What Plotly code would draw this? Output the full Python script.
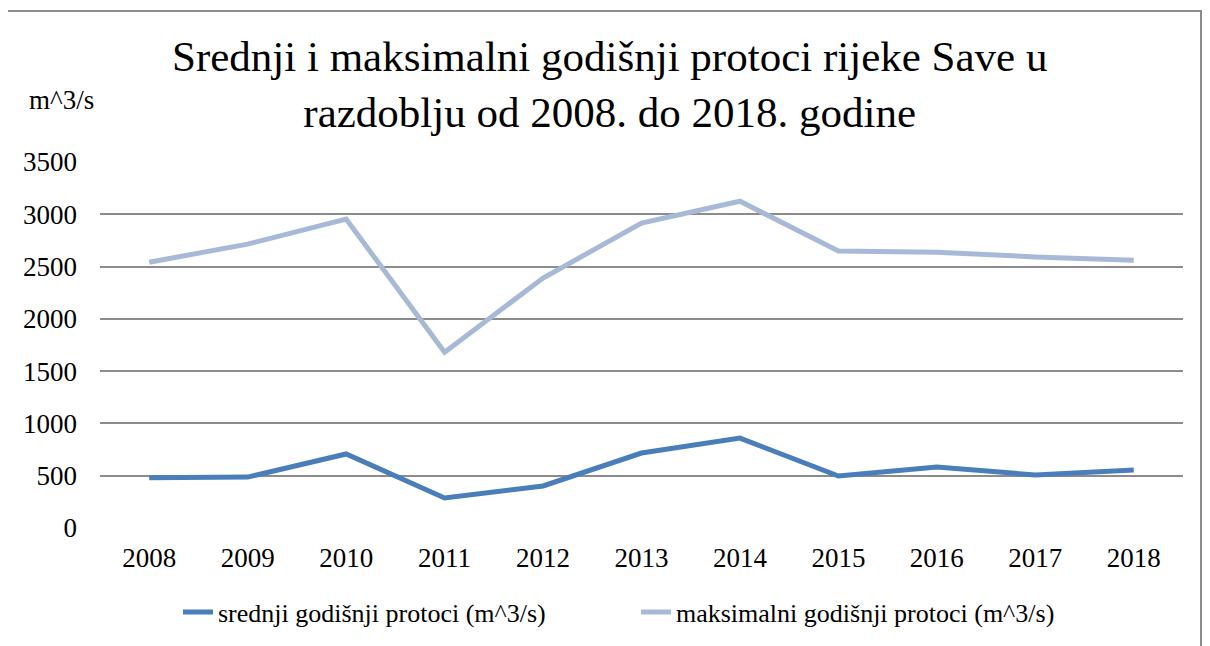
import plotly.graph_objects as go

years = ["2008", "2009", "2010", "2011", "2012", "2013", "2014", "2015", "2016", "2017", "2018"]
srednji = [480, 487, 708, 287, 402, 717, 860, 497, 583, 507, 555]
maksimalni = [2542, 2715, 2955, 1680, 2390, 2915, 3125, 2648, 2638, 2592, 2560]
y_ticks = [0, 500, 1000, 1500, 2000, 2500, 3000, 3500]

name_sr = "srednji godišnji protoci (m^3/s)"
name_mx = "maksimalni godišnji protoci (m^3/s)"
FONT = "Times New Roman"

fig = go.Figure()
fig.add_trace(go.Scatter(x=years, y=srednji, mode="lines", name=name_sr,
                         line=dict(color="#4A7EBB", width=5)))
fig.add_trace(go.Scatter(x=years, y=maksimalni, mode="lines", name=name_mx,
                         line=dict(color="#A7B9D7", width=5)))

# page body has an 8px margin, so the figure is offset by (8, 8) in the window
fig.update_layout(
    width=1202, height=638,
    margin=dict(l=92, r=27, t=154, b=118, autoexpand=False),
    paper_bgcolor="white", plot_bgcolor="white",
    font=dict(family=FONT, color="black", size=26),
    showlegend=True,
    legend=dict(orientation="h", x=0.072, xanchor="left", y=-0.23, yanchor="middle",
                font=dict(size=26, family=FONT, color="black"), traceorder="normal",
                entrywidth=413, entrywidthmode="pixels"),
    xaxis=dict(type="category", range=[-0.5, 10.5], showgrid=False, showline=False,
               zeroline=False, tickfont=dict(size=27, family=FONT, color="black"), ticks="",
               ticklabelstandoff=11),
    yaxis=dict(range=[0, 3500], tickvals=y_ticks, showgrid=True, gridcolor="#8C8C8C",
               gridwidth=2, zeroline=False, showline=False, ticks="",
               tickfont=dict(size=27, family=FONT, color="black"), ticklabelstandoff=22),
    annotations=[
        dict(text="Srednji i maksimalni godišnji protoci rijeke Save u<br>razdoblju od 2008. do 2018. godine",
             xref="paper", yref="paper", x=0.470, y=(528 - 84) / 366, xanchor="center",
             yanchor="middle", showarrow=False, font=dict(size=43, family=FONT, color="black")),
        dict(text="m^3/s", xref="paper", yref="paper", x=(27 - 100) / 1083, xanchor="left",
             y=(528 - 100) / 366, yanchor="middle", showarrow=False,
             font=dict(size=27, family=FONT, color="black")),
    ],
    shapes=[
        dict(type="rect", xref="paper", yref="paper",
             x0=(7 - 100) / 1083, x1=(1201 - 100) / 1083,
             y0=-0.5, y1=(528 - 11) / 366,
             line=dict(color="#8C8C8C", width=2), fillcolor="rgba(0,0,0,0)", layer="below"),
    ],
)

fig.write_html("out.html")
